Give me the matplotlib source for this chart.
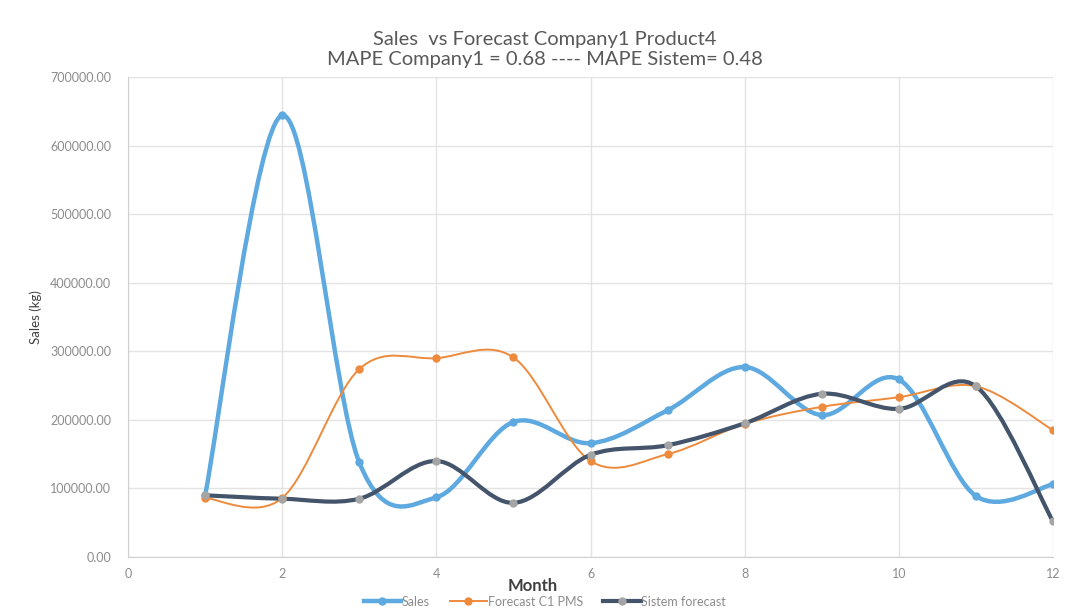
import numpy as np
import matplotlib
matplotlib.use("Agg")
import matplotlib.pyplot as plt
from matplotlib.path import Path
from matplotlib.patches import PathPatch
from matplotlib.ticker import FormatStrFormatter
from matplotlib.lines import Line2D

plt.rcParams['font.family'] = ['Lato', 'DejaVu Sans']

months = [1, 2, 3, 4, 5, 6, 7, 8, 9, 10, 11, 12]
sales = [90000, 644000, 138000, 87000, 197000, 166000, 214000, 277000, 207000, 259000, 89000, 106000]
forecast_c1 = [86000, 86000, 274000, 290000, 291000, 140000, 150000, 194000, 219000, 233000, 249000, 185000]
sistem = [90000, 85000, 85000, 140000, 79000, 149000, 163000, 195000, 238000, 216000, 249000, 52000]


def smooth_path(x, y):
    # excel-ish smoothed line as cubic bezier segments
    pts = np.column_stack([x, y]).astype(float)
    n = len(pts)
    verts = [pts[0]]
    codes = [Path.MOVETO]
    for i in range(n - 1):
        p0 = pts[i - 1] if i > 0 else pts[i]
        p1 = pts[i]
        p2 = pts[i + 1]
        p3 = pts[i + 2] if i + 2 < n else pts[i + 1]
        c1 = p1 + (p2 - p0) / 6.0
        c2 = p2 - (p3 - p1) / 6.0
        verts += [c1, c2, p2]
        codes += [Path.CURVE4] * 3
    return Path(verts, codes)


fig = plt.figure(figsize=(10.66, 6.14), dpi=100)
ax = fig.add_axes([0.1201, 0.0928, 0.8677, 0.7818])

series = [
    (sales, 'Sales', '#5DA9E0', '#5DA9E0', 3.2),
    (forecast_c1, 'Forecast C1 PMS', '#EE8A3C', '#EE8A3C', 1.4),
    (sistem, 'Sistem forecast', '#44546A', '#A5A5A5', 3.0),
]
handles = []
for vals, name, col, mcol, lw in series:
    patch = PathPatch(smooth_path(months, vals), facecolor='none', edgecolor=col,
                      lw=lw, capstyle='round', joinstyle='round', zorder=3)
    ax.add_patch(patch)
    ax.plot(months, vals, ls='none', marker='o', ms=5, color=mcol, zorder=4)
    handles.append(Line2D([], [], color=col, lw=lw, marker='o', ms=5,
                          markerfacecolor=mcol, markeredgecolor=mcol))

ax.set_xlim(0, 12)
ax.set_ylim(0, 700000)
ax.set_xticks(range(0, 13, 2))
ax.set_yticks(range(0, 700001, 100000))
ax.yaxis.set_major_formatter(FormatStrFormatter('%.2f'))
ax.grid(True, color='#E3E3E3', lw=1)
ax.set_axisbelow(True)
for s in ['top', 'right']:
    ax.spines[s].set_visible(False)
for s in ['left', 'bottom']:
    ax.spines[s].set_color('#D0D0D0')
ax.tick_params(length=0, labelsize=9, labelcolor='#8C8C8C', pad=12)
ax.tick_params(axis='x', pad=8)

ax.set_ylabel('Sales (kg)', fontsize=9.5, color='#404040', labelpad=6)
ax.set_xlabel('Month', fontsize=12, fontweight='bold', color='#404040')
ax.xaxis.set_label_coords(0.438, -0.043)

fig.suptitle('Sales  vs Forecast Company1 Product4\nMAPE Company1 = 0.68 ---- MAPE Sistem= 0.48',
             x=0.511, y=0.95, fontsize=14.5, color='#595959', linespacing=1.2)

fig.legend(handles, [s[1] for s in series], loc='lower center', ncol=3,
           bbox_to_anchor=(0.511, -0.008), frameon=False, fontsize=9,
           labelcolor='#8C8C8C', handlelength=3.0, handletextpad=0.05, columnspacing=1.6)

fig.savefig('out.png', dpi=100)
